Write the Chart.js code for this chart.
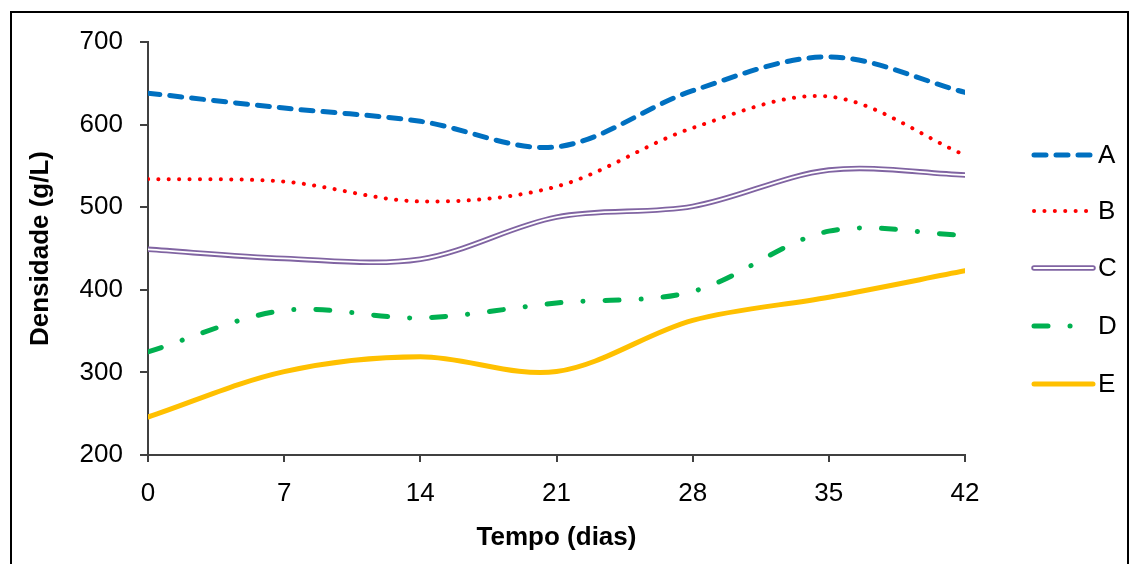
<!DOCTYPE html>
<html>
<head>
<meta charset="utf-8">
<script src="https://cdn.jsdelivr.net/npm/chart.js@4.4.1/dist/chart.umd.min.js"></script>
<style>
  html, body { margin: 0; padding: 0; background: #fff; overflow: hidden; }
  #frame { position: absolute; left: 10px; top: 11px; width: 1115px; height: 600px;
           border: 2px solid #000; border-bottom: none; }
  #chart1 { position: absolute; left: 0; top: 0; }
</style>
</head>
<body>
<div id="frame"></div>
<canvas id="chart1" width="1134" height="564"></canvas>
<script>
var dias = [0, 7, 14, 21, 28, 35, 42];
var serieA = [638, 620, 604, 573, 641, 682, 639];
var serieB = [534, 531, 507, 525, 596, 634, 563];
var serieC = [449, 438, 437, 488, 501, 545, 539];
var serieD = [325, 375, 366, 384, 398, 471, 466];
var serieE = [246, 301, 319, 301, 363, 391, 423];
var yTicks = [200, 300, 400, 500, 600, 700];

var fonte = "'Liberation Sans', Arial, sans-serif";

function pontos(valores) {
  return valores.map(function(v, i) { return { x: dias[i], y: v }; });
}

// line styles shared by the plot and the legend
var estilos = [
  { label: "A", color: "#0070C0", width: 5, dash: [12, 10] },
  { label: "B", color: "#FF0000", width: 4, dash: [0.1, 10.3] },
  { label: "C", color: "#8064A2", width: 5.5, dash: [], inner: "#ffffff" },
  { label: "D", color: "#00B050", width: 5, dash: [14, 22, 0.1, 22] },
  { label: "E", color: "#FFC000", width: 5, dash: [] }
];
var valores = [serieA, serieB, serieC, serieD, serieE];

var datasets = [];
estilos.forEach(function(e, i) {
  datasets.push({
    label: e.label,
    data: pontos(valores[i]),
    borderColor: e.color,
    borderWidth: e.width,
    borderDash: e.dash,
    borderCapStyle: "round",
    borderJoinStyle: "round",
    pointRadius: 0,
    tension: 0.33,
    fill: false,
    order: 0
  });
  if (e.inner) {
    // white core turns C into a double line; lower order draws it on top
    datasets.push({
      label: e.label + "_in",
      data: pontos(valores[i]),
      borderColor: e.inner,
      borderWidth: 1.8,
      borderCapStyle: "round",
      pointRadius: 0,
      tension: 0.33,
      fill: false,
      order: -1
    });
  }
});

var legenda = {
  id: "legenda",
  afterDraw: function(chart) {
    var ctx = chart.ctx;
    var x0 = 1034, x1 = 1090;
    var ys = [155, 211, 268, 326, 384];
    ctx.save();
    estilos.forEach(function(e, i) {
      var y = ys[i];
      ctx.lineCap = "round";
      ctx.setLineDash(e.dash);
      ctx.strokeStyle = e.color;
      ctx.lineWidth = e.width;
      ctx.beginPath();
      ctx.moveTo(x0, y);
      ctx.lineTo(e.dash.length ? x1 : 1093, y);
      ctx.stroke();
      if (e.inner) {
        ctx.setLineDash([]);
        ctx.strokeStyle = e.inner;
        ctx.lineWidth = 1.8;
        ctx.beginPath();
        ctx.moveTo(x0, y);
        ctx.lineTo(1093, y);
        ctx.stroke();
      }
      ctx.setLineDash([]);
      ctx.fillStyle = "#000";
      ctx.font = "26px " + fonte;
      ctx.textBaseline = "middle";
      ctx.textAlign = "left";
      ctx.fillText(e.label, 1098, y + 1);
    });
    ctx.restore();
  }
};

var chart1 = new Chart(document.getElementById("chart1"), {
  type: "line",
  data: { datasets: datasets },
  plugins: [legenda],
  options: {
    responsive: false,
    animation: false,
    devicePixelRatio: 1,
    layout: { padding: { left: 0, right: 169, top: 42, bottom: 0 } },
    plugins: { legend: { display: false }, tooltip: { enabled: false } },
    scales: {
      x: {
        type: "linear",
        min: 0,
        max: 42,
        afterFit: function(s) { s.height = 109; },
        afterBuildTicks: function(s) { s.ticks = dias.map(function(v) { return { value: v }; }); },
        border: { display: true, color: "#404040", width: 2 },
        grid: { display: true, drawOnChartArea: false, drawTicks: true, tickLength: 7, color: "#404040", lineWidth: 2 },
        ticks: { color: "#000", font: { family: fonte, size: 26 }, padding: 16, maxRotation: 0 },
        title: { display: true, text: "Tempo (dias)", color: "#000",
                 font: { family: fonte, size: 26, weight: "bold" }, padding: { top: 0, bottom: 11 } }
      },
      y: {
        min: 200,
        max: 700,
        afterFit: function(s) { s.width = 148; },
        afterBuildTicks: function(s) { s.ticks = yTicks.map(function(v) { return { value: v }; }); },
        border: { display: true, color: "#404040", width: 2 },
        grid: { display: true, drawOnChartArea: false, drawTicks: true, tickLength: 8, color: "#404040", lineWidth: 2 },
        ticks: { color: "#000", font: { family: fonte, size: 26 }, padding: 17 },
        title: { display: true, text: "Densidade (g/L)", color: "#000",
                 font: { family: fonte, size: 26, weight: "bold" }, padding: { top: 25, bottom: 0 } }
      }
    }
  }
});
</script>
</body>
</html>
